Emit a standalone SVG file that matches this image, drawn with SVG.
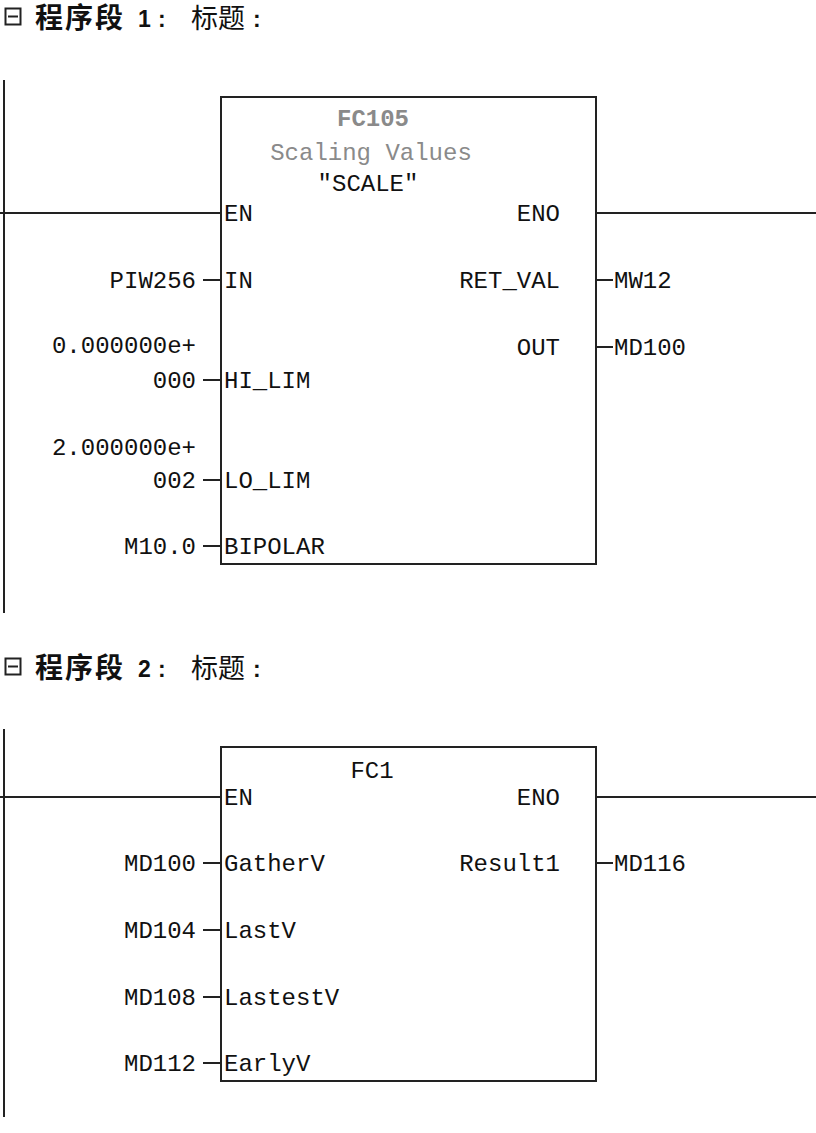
<svg xmlns="http://www.w3.org/2000/svg" width="816" height="1133" viewBox="0 0 816 1133">
<style>
.t{font-family:"Liberation Mono","DejaVu Sans Mono",monospace;font-size:24px;fill:#111}
.r{text-anchor:end}
.m{text-anchor:middle}
.g{fill:#8a8a8a}
.b{font-weight:bold}
.h{font-family:"Liberation Sans","Noto Sans CJK SC",sans-serif;fill:#111}
.ln{stroke:#222;stroke-width:2;fill:none}
.box{stroke:#222;stroke-width:2;fill:#fff}
</style>
<rect width="816" height="1133" fill="#fff"/>
<g id="header1">
<rect x="5.5" y="8.5" width="15" height="16" class="ln" stroke-width="1.5"/>
<line x1="8" y1="16.5" x2="18" y2="16.5" class="ln" stroke-width="1.5"/>
<text x="35" y="28" class="h" font-size="28" font-weight="bold" letter-spacing="2">程序段</text>
<text x="138" y="27" class="h" font-size="23" font-weight="bold">1</text>
<text x="158" y="27" class="h" font-size="23" font-weight="bold">:</text>
<text x="191" y="28" class="h" font-size="27">标题</text>
<text x="253" y="27" class="h" font-size="23" font-weight="bold">:</text>
</g>
<g id="header2">
<rect x="5.5" y="658.5" width="15" height="16" class="ln" stroke-width="1.5"/>
<line x1="8" y1="666.5" x2="18" y2="666.5" class="ln" stroke-width="1.5"/>
<text x="35" y="678" class="h" font-size="28" font-weight="bold" letter-spacing="2">程序段</text>
<text x="138" y="677" class="h" font-size="23" font-weight="bold">2</text>
<text x="158" y="677" class="h" font-size="23" font-weight="bold">:</text>
<text x="191" y="678" class="h" font-size="27">标题</text>
<text x="253" y="677" class="h" font-size="23" font-weight="bold">:</text>
</g>
<g id="connectors">
<line x1="4" y1="80" x2="4" y2="613" class="ln"/>
<line x1="0" y1="213" x2="221" y2="213" class="ln"/>
<line x1="596" y1="213" x2="816" y2="213" class="ln"/>
<line x1="203" y1="280" x2="221" y2="280" class="ln"/>
<line x1="203" y1="380" x2="221" y2="380" class="ln"/>
<line x1="203" y1="480" x2="221" y2="480" class="ln"/>
<line x1="203" y1="546" x2="221" y2="546" class="ln"/>
<line x1="596" y1="280" x2="613" y2="280" class="ln"/>
<line x1="596" y1="347" x2="613" y2="347" class="ln"/>
<line x1="4" y1="729" x2="4" y2="1117" class="ln"/>
<line x1="0" y1="797" x2="221" y2="797" class="ln"/>
<line x1="596" y1="797" x2="816" y2="797" class="ln"/>
<line x1="203" y1="863" x2="221" y2="863" class="ln"/>
<line x1="203" y1="930" x2="221" y2="930" class="ln"/>
<line x1="203" y1="997" x2="221" y2="997" class="ln"/>
<line x1="203" y1="1063" x2="221" y2="1063" class="ln"/>
<line x1="596" y1="863" x2="613" y2="863" class="ln"/>
</g>
<g id="fc105">
<rect x="221" y="97" width="375" height="467" class="box"/>
<text x="373" y="126" class="t m g b">FC105</text>
<text x="371" y="160" class="t m g">Scaling Values</text>
<text x="368" y="191" class="t m">″SCALE″</text>
<text x="224" y="221" class="t">EN</text>
<text x="560" y="221" class="t r">ENO</text>
<text x="224" y="288" class="t">IN</text>
<text x="224" y="388" class="t">HI_LIM</text>
<text x="224" y="488" class="t">LO_LIM</text>
<text x="224" y="554" class="t">BIPOLAR</text>
<text x="560" y="288" class="t r">RET_VAL</text>
<text x="560" y="355" class="t r">OUT</text>
</g>
<g id="fc105-operands">
<text x="196" y="288" class="t r">PIW256</text>
<text x="196" y="353" class="t r">0.000000e+</text>
<text x="196" y="388" class="t r">000</text>
<text x="196" y="455" class="t r">2.000000e+</text>
<text x="196" y="488" class="t r">002</text>
<text x="196" y="554" class="t r">M10.0</text>
<text x="614" y="288" class="t">MW12</text>
<text x="614" y="355" class="t">MD100</text>
</g>
<g id="fc1">
<rect x="221" y="747" width="375" height="334" class="box"/>
<text x="372" y="778" class="t m">FC1</text>
<text x="224" y="805" class="t">EN</text>
<text x="560" y="805" class="t r">ENO</text>
<text x="224" y="871" class="t">GatherV</text>
<text x="224" y="938" class="t">LastV</text>
<text x="224" y="1005" class="t">LastestV</text>
<text x="224" y="1071" class="t">EarlyV</text>
<text x="560" y="871" class="t r">Result1</text>
</g>
<g id="fc1-operands">
<text x="196" y="871" class="t r">MD100</text>
<text x="196" y="938" class="t r">MD104</text>
<text x="196" y="1005" class="t r">MD108</text>
<text x="196" y="1071" class="t r">MD112</text>
<text x="614" y="871" class="t">MD116</text>
</g>
</svg>
